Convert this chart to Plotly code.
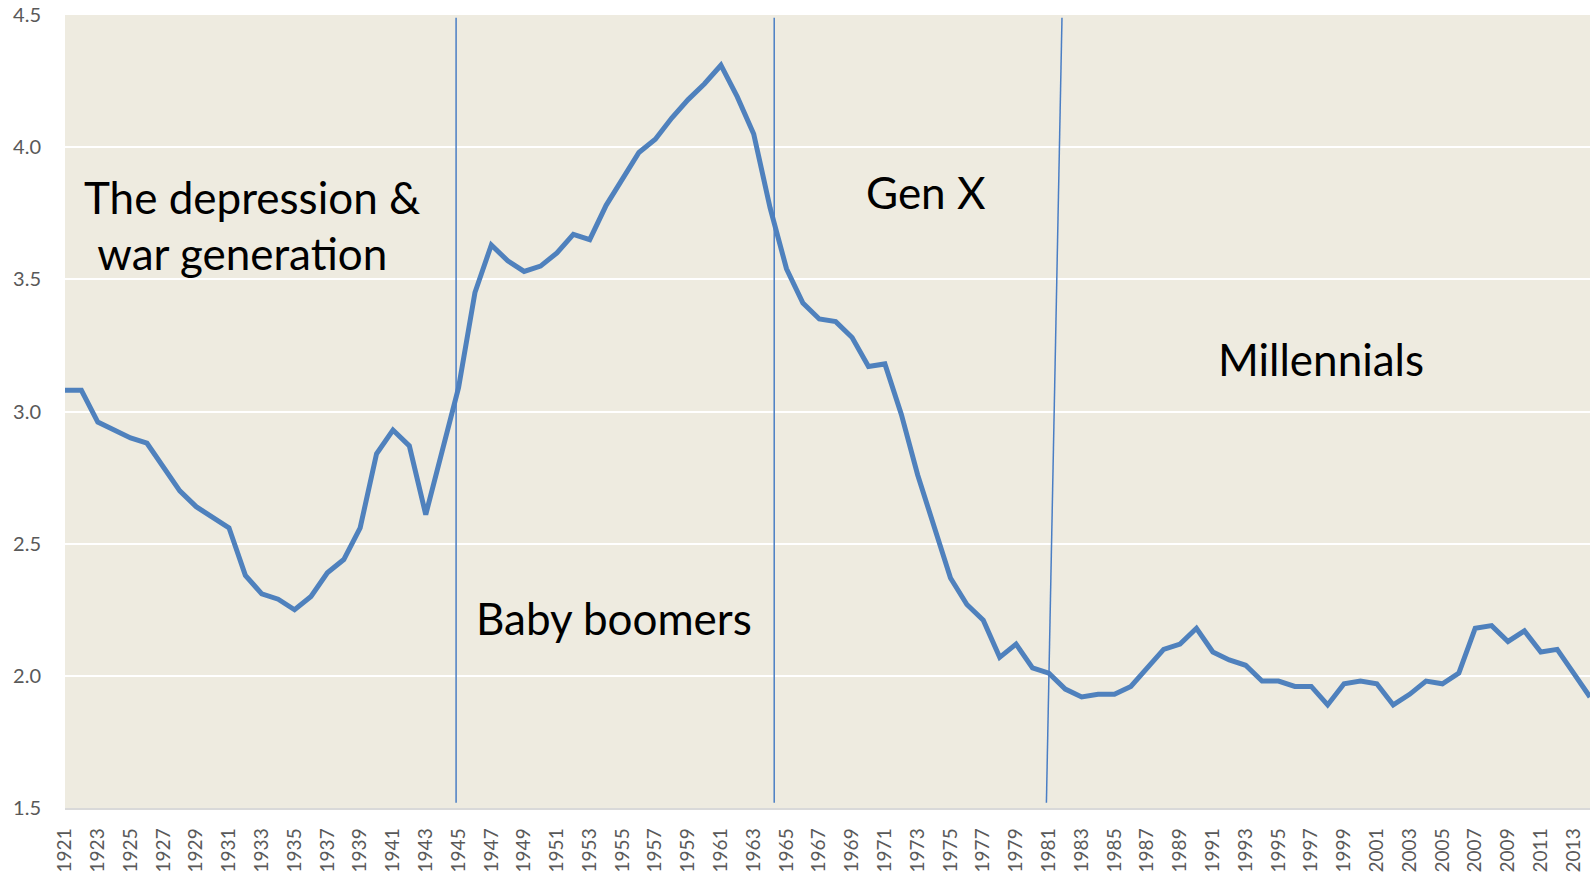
import plotly.graph_objects as go

years = list(range(1921, 2015))
fertility = [
    3.08, 3.08, 2.96, 2.93, 2.90, 2.88, 2.79, 2.70, 2.64, 2.60,
    2.56, 2.38, 2.31, 2.29, 2.25, 2.30, 2.39, 2.44, 2.56, 2.84,
    2.93, 2.87, 2.61, 2.85, 3.09, 3.45, 3.63, 3.57, 3.53, 3.55,
    3.60, 3.67, 3.65, 3.78, 3.88, 3.98, 4.03, 4.11, 4.18, 4.24,
    4.31, 4.19, 4.05, 3.77, 3.54, 3.41, 3.35, 3.34, 3.28, 3.17,
    3.18, 2.99, 2.76, 2.57, 2.37, 2.27, 2.21, 2.07, 2.12, 2.03,
    2.01, 1.95, 1.92, 1.93, 1.93, 1.96, 2.03, 2.10, 2.12, 2.18,
    2.09, 2.06, 2.04, 1.98, 1.98, 1.96, 1.96, 1.89, 1.97, 1.98,
    1.97, 1.89, 1.93, 1.98, 1.97, 2.01, 2.18, 2.19, 2.13, 2.17,
    2.09, 2.10, 2.01, 1.92,
]
tick_years = years[::2]
tick_labels = [str(y) for y in tick_years]
y_ticks = [1.5, 2.0, 2.5, 3.0, 3.5, 4.0, 4.5]

# generation divider lines: (x at top, x at bottom)
dividers = [(1944.85, 1944.85), (1964.25, 1964.25), (1981.8, 1980.85)]

labels = ["The depression &", " war generation", "Baby boomers", "Gen X", "Millennials"]
label_x = [1932.4, 1931.5, 1954.5, 1973.5, 1997.6]
label_y = [3.81, 3.60, 2.22, 3.83, 3.20]

fig = go.Figure()
fig.add_trace(go.Scatter(
    x=years, y=fertility, mode="lines",
    line=dict(color="#4F81BD", width=5),
    hoverinfo="x+y", showlegend=False,
))

for xt, xb in dividers:
    fig.add_shape(type="line", xref="x", yref="y", x0=xt, y0=4.49, x1=xb, y1=1.52,
                  line=dict(color="#4A7EC4", width=1.5), layer="above")

for t, x, y in zip(labels, label_x, label_y):
    fig.add_annotation(x=x, y=y, xref="x", yref="y", text=t, showarrow=False,
                       font=dict(family="Lato, Open Sans, sans-serif", size=44, color="#000000"),
                       xanchor="center", yanchor="middle")

fig.update_layout(
    width=1596, height=872,
    margin=dict(l=65, r=6, t=15, b=64, autoexpand=False),
    paper_bgcolor="#FFFFFF",
    plot_bgcolor="#EEEBE0",
    showlegend=False,
)
fig.update_xaxes(
    range=[1921, 2014], tickmode="array", tickvals=tick_years, ticktext=tick_labels,
    tickangle=-90, showgrid=False, zeroline=False, automargin=False,
    showline=True, linecolor="#D9D9D9", linewidth=1.5,
    ticks="outside", ticklen=11, tickcolor="rgba(0,0,0,0)",
    tickfont=dict(family="Lato, Open Sans, sans-serif", size=19, color="#595959"),
)
fig.update_yaxes(
    range=[1.5, 4.5], tickmode="array", tickvals=y_ticks,
    ticktext=[f"{v:.1f}" for v in y_ticks], automargin=False,
    showgrid=True, gridcolor="#FFFFFF", gridwidth=1.5, zeroline=False,
    showline=False, ticks="outside", ticklen=19, tickcolor="rgba(0,0,0,0)",
    tickfont=dict(family="Lato, Open Sans, sans-serif", size=20, color="#595959"),
)

fig.write_html(
    "out.html",
    config={"displayModeBar": False},
    post_script="document.body.style.margin='0';document.body.style.overflow='hidden';",
)
